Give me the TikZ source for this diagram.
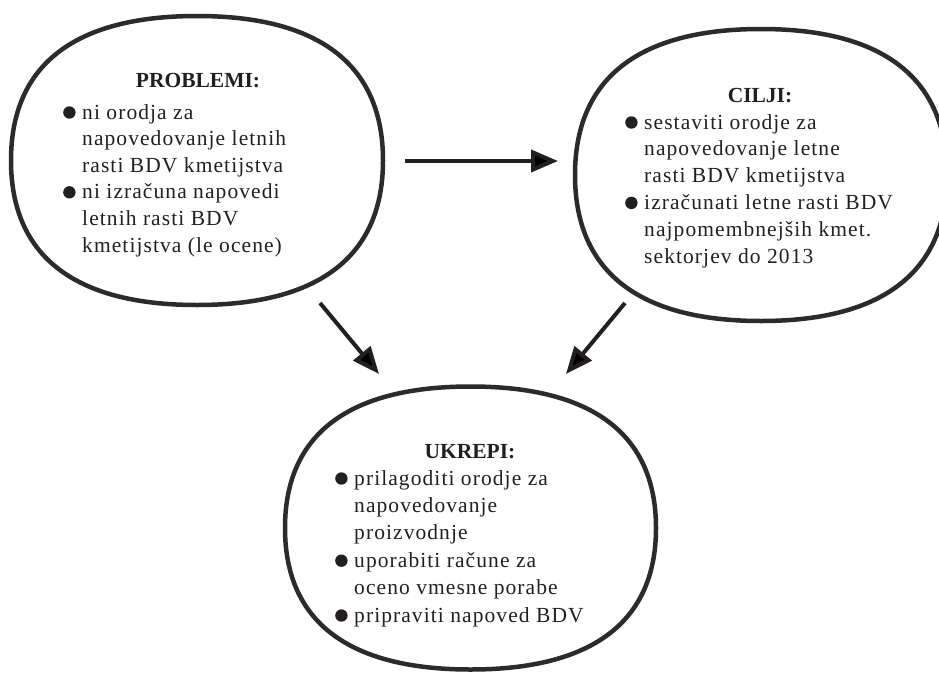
\documentclass[tikz,border=0pt]{standalone}
\usepackage{fontspec}
\setmainfont{Liberation Serif}
\newfontfamily\bodyfont[LetterSpace=5]{Liberation Serif}
\usetikzlibrary{arrows.meta}
\definecolor{outl}{HTML}{2B2B2B}
\definecolor{ink}{HTML}{231F20}
\tikzset{
  blobline/.style={draw=outl, line width=4.5pt},
  ttl/.style={anchor=base, inner sep=0pt, text=ink, font=\bfseries\fontsize{21.5}{26}\selectfont},
  body/.style={anchor=base west, inner sep=0pt, text=ink},
  conn/.style={draw=ink, line width=4pt, -{Triangle[length=27pt,width=22pt]}, shorten >=0pt}
}
\newcommand\blob[4]{%
  \draw[blobline] (#1+#3,#2) .. controls (#1+#3,#2+0.66*#4) and (#1+0.66*#3,#2+#4) .. (#1,#2+#4)
    .. controls (#1-0.66*#3,#2+#4) and (#1-#3,#2+0.66*#4) .. (#1-#3,#2)
    .. controls (#1-#3,#2-0.66*#4) and (#1-0.66*#3,#2-#4) .. (#1,#2-#4)
    .. controls (#1+0.66*#3,#2-#4) and (#1+#3,#2-0.66*#4) .. cycle;}
\newcommand\bul{\makebox[19pt][l]{\tikz[baseline=-6.5pt]\fill[ink] (6.2pt,0pt) circle[radius=6.2pt];}}
\newcommand\ind{\hspace*{19pt}}
\begin{document}
\begin{tikzpicture}[x=1pt,y=-1pt]
\clip (0,0) rectangle (939,672);
% shapes
\blob{197}{160.5}{186}{144.5}
\blob{761}{175}{186}{146}
\blob{470.5}{528}{185.5}{141.5}
% titles
\node[ttl] (Pt) at (198,87) {PROBLEMI:};
\node[ttl] (Ct) at (760,102) {CILJI:};
\node[ttl] (Ut) at (470,458) {UKREPI:};
% bodies
\node[body] (Pb) at (63,119) {\bodyfont\fontsize{21.5}{26.6}\selectfont
  \begin{tabular}[t]{@{}l@{}}
  \bul ni orodja za\\
  \ind napovedovanje letnih\\
  \ind rasti BDV kmetijstva\\
  \bul ni izračuna napovedi\\
  \ind letnih rasti BDV\\
  \ind kmetijstva (le ocene)
  \end{tabular}};
\node[body] (Cb) at (625,129) {\bodyfont\fontsize{21.5}{26.8}\selectfont
  \begin{tabular}[t]{@{}l@{}}
  \bul sestaviti orodje za\\
  \ind napovedovanje letne\\
  \ind rasti BDV kmetijstva\\
  \bul izračunati letne rasti BDV\\
  \ind najpomembnejših kmet.\\
  \ind sektorjev do 2013
  \end{tabular}};
\node[body] (Ub) at (335,485) {\bodyfont\fontsize{21.5}{27.4}\selectfont
  \begin{tabular}[t]{@{}l@{}}
  \bul prilagoditi orodje za\\
  \ind napovedovanje\\
  \ind proizvodnje\\
  \bul uporabiti račune za\\
  \ind oceno vmesne porabe\\
  \bul pripraviti napoved BDV
  \end{tabular}};
% connectors
\coordinate (a1s) at (405,161);
\coordinate (a1e) at (558,161);
\coordinate (a2s) at (320,303);
\coordinate (a2e) at (379,374);
\coordinate (a3s) at (625,303);
\coordinate (a3e) at (566,374);
\draw[conn] (a1s) -- (a1e);
\draw[conn] (a2s) -- (a2e);
\draw[conn] (a3s) -- (a3e);
\end{tikzpicture}
\end{document}
